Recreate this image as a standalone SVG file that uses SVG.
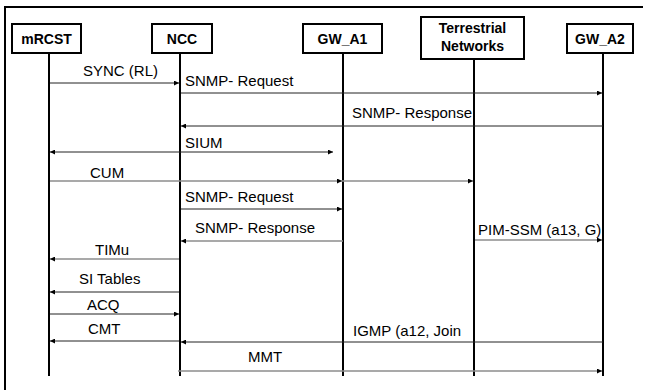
<svg xmlns="http://www.w3.org/2000/svg" width="646" height="390" viewBox="0 0 646 390">
<defs>
<marker id="ah" viewBox="0 0 10 10" refX="10" refY="5" markerWidth="6" markerHeight="5" orient="auto-start-reverse" markerUnits="userSpaceOnUse">
<path d="M0,0 L10,5 L0,10 z" fill="#000"/>
</marker>
<style>
.box{fill:#fff;stroke:#000;stroke-width:2}
.life{stroke:#000;stroke-width:2}
.t{font-family:"Liberation Sans",Arial,sans-serif;font-weight:bold;font-size:14px;fill:#000;text-anchor:middle}
.m{stroke:#222;stroke-width:1;fill:none}
.g{stroke:#8c8c8c;stroke-width:1.6;fill:none}
.l{font-family:"Liberation Sans",Arial,sans-serif;font-size:15px;fill:#000}
</style>
</defs>
<rect width="646" height="390" fill="#fff"/>
<path d="M5,390 V7 H643" fill="none" stroke="#000" stroke-width="2"/>
<g id="lifelines">
<line class="life" x1="49" y1="53" x2="49" y2="376"/>
<line class="life" x1="180" y1="53" x2="180" y2="376"/>
<line class="life" x1="343" y1="53" x2="343" y2="376"/>
<line class="life" x1="474" y1="59" x2="474" y2="376"/>
<line class="life" x1="603" y1="53" x2="603" y2="376"/>
</g>
<g id="mRCST"><rect class="box" x="12" y="24" width="69" height="29"/><text class="t" x="46.5" y="44">mRCST</text></g>
<g id="NCC"><rect class="box" x="152" y="24" width="60" height="29"/><text class="t" x="182" y="44">NCC</text></g>
<g id="GW_A1"><rect class="box" x="303" y="24" width="79" height="29"/><text class="t" x="342.5" y="44">GW_A1</text></g>
<g id="TN"><rect class="box" x="421" y="17" width="103" height="42"/><text class="t" x="472.5" y="33">Terrestrial</text><text class="t" x="472.5" y="51">Networks</text></g>
<g id="GW_A2"><rect class="box" x="567" y="24" width="66" height="29"/><text class="t" x="600" y="44">GW_A2</text></g>
<g id="connectors">
<line class="m" x1="50" y1="83" x2="179" y2="83" marker-end="url(#ah)"/>
<line class="m" x1="181" y1="93" x2="602" y2="93" marker-end="url(#ah)"/>
<line class="m" x1="603" y1="126" x2="181" y2="126" marker-end="url(#ah)"/>
<line class="m" x1="50" y1="152" x2="333" y2="152" marker-start="url(#ah)" marker-end="url(#ah)"/>
<line class="g" x1="50" y1="181" x2="342" y2="181" marker-end="url(#ah)"/>
<line class="g" x1="342" y1="181" x2="473" y2="181" marker-end="url(#ah)"/>
<line class="m" x1="181" y1="209" x2="342" y2="209" marker-end="url(#ah)"/>
<line class="g" x1="343" y1="241" x2="181" y2="241" marker-end="url(#ah)"/>
<line class="g" x1="475" y1="240" x2="602" y2="240" marker-end="url(#ah)"/>
<line class="g" x1="179" y1="259" x2="50" y2="259" marker-end="url(#ah)"/>
<line class="m" x1="179" y1="292" x2="50" y2="292" marker-end="url(#ah)"/>
<line class="m" x1="50" y1="314" x2="179" y2="314" marker-end="url(#ah)"/>
<line class="m" x1="179" y1="341" x2="50" y2="341" marker-end="url(#ah)"/>
<line class="m" x1="603" y1="342" x2="181" y2="342" marker-end="url(#ah)"/>
<line class="g" x1="178" y1="371" x2="602" y2="371" marker-end="url(#ah)"/>
</g>
<g id="labels">
<text class="l" x="83" y="76">SYNC (RL)</text>
<text class="l" x="185" y="86">SNMP- Request</text>
<text class="l" x="352" y="118">SNMP- Response</text>
<text class="l" x="185" y="148">SIUM</text>
<text class="l" x="90" y="178">CUM</text>
<text class="l" x="185" y="202">SNMP- Request</text>
<text class="l" x="195" y="233">SNMP- Response</text>
<text class="l" x="478" y="235">PIM-SSM (a13, G)</text>
<text class="l" x="95" y="255">TIMu</text>
<text class="l" x="79" y="284">SI Tables</text>
<text class="l" x="87" y="310">ACQ</text>
<text class="l" x="88" y="334">CMT</text>
<text class="l" x="353" y="336">IGMP (a12, Join</text>
<text class="l" x="248" y="362">MMT</text>
</g>
</svg>
